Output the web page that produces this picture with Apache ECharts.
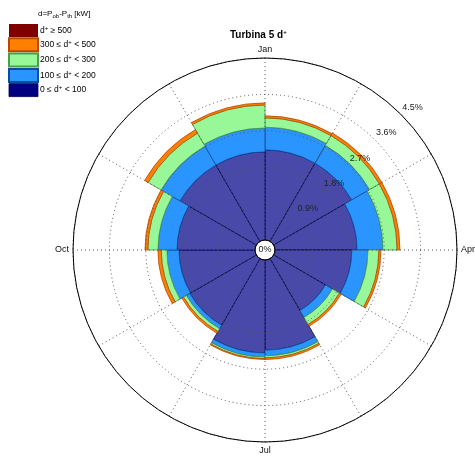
<!DOCTYPE html>
<html>
<head>
<meta charset="utf-8">
<script src="https://cdn.jsdelivr.net/npm/echarts@6/dist/echarts.min.js"></script>
<style>
  html, body { margin: 0; padding: 0; background: #fff; }
  #chart { width: 475px; height: 456px; }
</style>
</head>
<body>
<div id="chart"></div>
<script>
// Monthly sectors, clockwise from the top
const months = ['Jan', 'Feb', 'Mar', 'Apr', 'May', 'Jun', 'Jul', 'Aug', 'Sep', 'Oct', 'Nov', 'Dec'];
const compassLabels = ['Jan', 'Apr', 'Jul', 'Oct'];
const radiusTicks = [0, 0.9, 1.8, 2.7, 3.6, 4.5];

// Frequency (%) of each d+ class per month
const bin0to100   = [2.23, 2.23, 2.03, 1.90, 1.48, 2.23, 2.30, 1.90, 1.88, 1.93, 2.18, 2.18];
const bin100to200 = [0.56, 0.51, 0.64, 0.40, 0.20, 0.14, 0.10, 0.10, 0.30, 0.47, 0.54, 0.59];
const bin200to300 = [0.23, 0.28, 0.35, 0.27, 0.20, 0.05, 0.04, 0.08, 0.14, 0.25, 0.37, 0.57];
const bin300to500 = [0.05, 0.07, 0.07, 0.05, 0.05, 0.04, 0.02, 0.05, 0.08, 0.07, 0.10, 0.05];
const bin500plus  = [0, 0, 0, 0, 0, 0, 0, 0, 0, 0, 0, 0];

const classNames = ['d+ >= 500', '300 <= d+ < 500', '200 <= d+ < 300', '100 <= d+ < 200', '0 <= d+ < 100'];
const classLabels = [
  '{t|d}{s|+}{t| \u2265 500}',
  '{t|300 \u2264 d}{s|+}{t| < 500}',
  '{t|200 \u2264 d}{s|+}{t| < 300}',
  '{t|100 \u2264 d}{s|+}{t| < 200}',
  '{t|0 \u2264 d}{s|+}{t| < 100}'
];

const FONT = 'Liberation Sans, Arial, Helvetica, sans-serif';
const CENTER = [265, 250];
const R_IN = 10, R_OUT = 192, LABEL_SHIFT = 13;

const chart = echarts.init(document.getElementById('chart'), null, { renderer: 'canvas' });

function ring(name, data, fill, edge, edgeWidth) {
  return {
    type: 'bar', name: name, data: data,
    coordinateSystem: 'polar', polarIndex: 0, stack: 'dplus',
    barCategoryGap: '0%', silent: true,
    itemStyle: { color: fill, borderColor: edge, borderWidth: edgeWidth },
    z: 2
  };
}

const option = {
  animation: false,
  backgroundColor: '#fff',
  title: [
    {
      text: 'Turbina 5 d{s|+}',
      left: 230, top: 29, padding: 0,
      textStyle: {
        fontFamily: FONT, fontSize: 10, fontWeight: 'bold', color: '#000',
        rich: { s: { fontFamily: FONT, fontSize: 6, fontWeight: 'bold', verticalAlign: 'top', padding: [0, 0, 6, 0] } }
      }
    },
    {
      text: 'd=P{b|ob}-P{b|th} [kW]',
      left: 38, top: 8, padding: 0,
      textStyle: {
        fontFamily: FONT, fontSize: 8, fontWeight: 'normal', color: '#000',
        rich: { b: { fontFamily: FONT, fontSize: 6, padding: [5, 0, 0, 0] } }
      }
    }
  ],
  legend: {
    orient: 'vertical', left: 8, top: 24, padding: 0,
    itemWidth: 29, itemHeight: 13, itemGap: 0.3,
    icon: 'rect', selectedMode: false,
    data: [
      { name: classNames[0] },
      { name: classNames[1] },
      { name: classNames[2] },
      { name: classNames[3] },
      { name: classNames[4], itemStyle: { color: '#000080', borderColor: '#000050', borderWidth: 0.8 } }
    ],
    formatter: function (name) { return classLabels[classNames.indexOf(name)]; },
    textStyle: {
      fontFamily: FONT, fontSize: 8.5, color: '#000', padding: [0, 0, 0, -3], lineHeight: 11,
      rich: {
        t: { fontFamily: FONT, fontSize: 8.5, color: '#000', lineHeight: 11 },
        s: { fontFamily: FONT, fontSize: 6, color: '#000', lineHeight: 11, verticalAlign: 'top' }
      }
    }
  },
  polar: [
    { center: CENTER, radius: [R_IN, R_OUT] },
    { center: CENTER, radius: [R_IN, R_OUT] },
    { center: CENTER, radius: [R_IN + LABEL_SHIFT, R_OUT + LABEL_SHIFT] }
  ],
  angleAxis: [
    {
      polarIndex: 0, type: 'category', data: months, boundaryGap: true,
      startAngle: 90, clockwise: true, z: 10,
      axisLine: { show: true, lineStyle: { color: '#000', width: 1 } },
      axisTick: { show: false }, axisLabel: { show: false },
      splitLine: { show: true, lineStyle: { color: '#555', width: 1, type: [1, 3] } }
    },
    {
      polarIndex: 1, type: 'value', min: 0, max: 360, interval: 90,
      startAngle: 90, clockwise: true,
      axisLine: { show: false }, axisTick: { show: false }, splitLine: { show: false },
      axisLabel: {
        show: true, margin: 4, fontFamily: FONT, fontSize: 9, color: '#111',
        formatter: function (v) { return v >= 360 ? '' : compassLabels[Math.round(v / 90)]; }
      }
    },
    {
      polarIndex: 2, type: 'value', min: 0, max: 360, startAngle: 44, show: false
    }
  ],
  radiusAxis: [
    {
      polarIndex: 0, type: 'value', min: radiusTicks[0], max: radiusTicks[radiusTicks.length - 1],
      interval: 0.9, z: 10,
      axisLine: { show: false }, axisTick: { show: false }, axisLabel: { show: false },
      splitLine: { show: true, lineStyle: { color: '#555', width: 1, type: [1, 3] } }
    },
    {
      polarIndex: 1, type: 'value', min: 0, max: 4.5, show: false
    },
    {
      polarIndex: 2, type: 'value', min: radiusTicks[0], max: radiusTicks[radiusTicks.length - 1],
      interval: 0.9, z: 11,
      axisLine: { show: false }, axisTick: { show: false }, splitLine: { show: false },
      axisLabel: {
        show: true, margin: 0, rotate: 0, align: 'center', verticalAlign: 'middle',
        fontFamily: FONT, fontSize: 9, color: '#222',
        formatter: function (v) { return v === 0 ? '' : v.toFixed(1) + '%'; }
      }
    }
  ],
  graphic: [
    {
      type: 'text', x: CENTER[0], y: CENTER[1], z: 20,
      style: { text: '0%', font: '9px ' + FONT, fill: '#222', align: 'center', verticalAlign: 'middle' }
    }
  ],
  series: [
    ring(classNames[4], bin0to100, '#4949a9', '#000050', 0.8),
    ring(classNames[3], bin100to200, '#2b95ff', '#0a4f9c', 0.8),
    ring(classNames[2], bin200to300, '#98f898', '#4aa04a', 0.8),
    ring(classNames[1], bin300to500, '#ff8000', '#b84800', 0.8),
    ring(classNames[0], bin500plus, '#800000', '#800000', 0)
  ]
};

chart.setOption(option);
</script>
</body>
</html>
